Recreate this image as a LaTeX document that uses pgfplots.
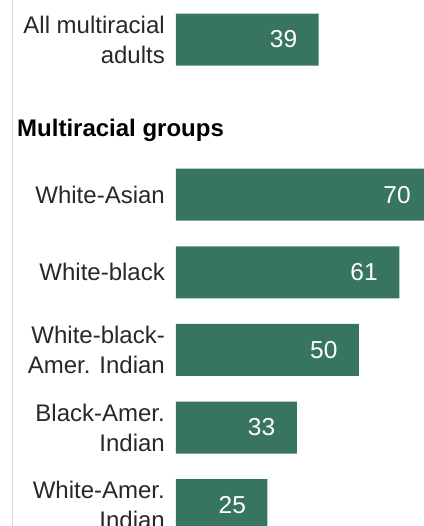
\documentclass[border=0pt]{standalone}
\usepackage{pgfplots}
\pgfplotsset{compat=1.18}
\usepackage{fontspec}
\setmainfont{Liberation Sans}
\definecolor{bargreen}{RGB}{56,116,98}
\definecolor{labelgray}{RGB}{40,40,40}
\begin{document}
\begin{tikzpicture}
\begin{axis}[
  scale only axis,
  width=256.2pt, height=526pt,
  xbar, bar width=52pt,
  xmin=0, xmax=70,
  ymin=-0.509, ymax=6.269,
  y dir=reverse,
  axis x line=none,
  axis y line*=left,
  y axis line style={draw=none},
  major tick length=0pt,
  ytick={0,2,3,4,5,6},
  yticklabels={{All multiracial\\adults},{White-Asian},{White-black},{White-black-\\Amer. Indian},{Black-Amer.\\Indian},{White-Amer.\\Indian}},
  yticklabel style={align=right, font=\fontsize{24}{30}\selectfont, text=labelgray, inner sep=0pt, xshift=-11pt},
  nodes near coords,
  nodes near coords style={font=\fontsize{24.5}{28}\selectfont, text=white, anchor=east, xshift=-18pt},
  point meta=explicit symbolic,
]
\addplot[fill=bargreen, draw=none] coordinates {
  (39,0) [39]
  (70,2) [70]
  (61,3) [61]
  (50,4) [50]
  (33,5) [33]
  (25,6) [25]
};
\end{axis}
\draw[black!15, line width=1pt] ([xshift=-163pt]current axis.south west) -- ([xshift=-163pt]current axis.north west);
\node[anchor=west, font=\fontsize{24}{30}\selectfont\bfseries, inner sep=0pt] at ([xshift=-159pt, yshift=-130pt]current axis.north west) {Multiracial groups};
\pgfresetboundingbox
\useasboundingbox ([xshift=-176pt]current axis.south west) rectangle ([xshift=-8.2pt]current axis.north east);
\end{tikzpicture}
\end{document}
